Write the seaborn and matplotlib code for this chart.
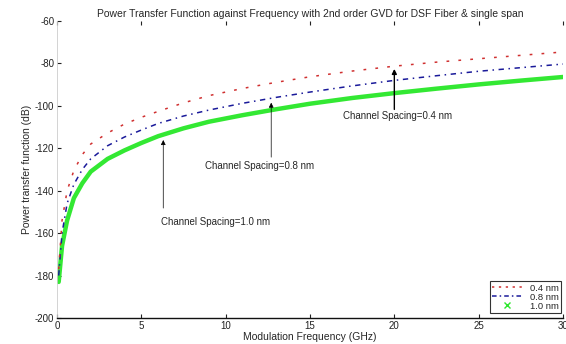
import matplotlib
matplotlib.use("Agg")
import matplotlib.pyplot as plt
import seaborn as sns
import pandas as pd
from matplotlib.lines import Line2D

# ---- data ----
freq_ghz = [0.1, 0.3, 0.6, 1.0, 1.5, 2, 3, 4, 5, 6, 7.5, 9, 11, 13, 15,
            17.5, 20, 22.5, 25, 27.5, 30]
ptf_04nm = [-177, -154, -140, -130.5, -123, -118, -112.8, -108.6, -105.4,
            -102.6, -98.6, -95.2, -91.8, -88.9, -86.3, -83.6, -81.3, -79.4,
            -77.8, -76.2, -74.6]
ptf_08nm = [-180, -160, -146, -137, -130, -125, -118.8, -114.7, -111.4,
            -108.3, -104.8, -102.0, -98.8, -96.0, -93.5, -90.6, -88.0,
            -85.8, -83.7, -82.0, -80.3]
ptf_10nm = [-183, -166, -154, -143.5, -136.5, -131, -125, -121, -117.5,
            -114.3, -110.6, -107.5, -104.4, -101.6, -99.0, -96.3, -94.0,
            -91.9, -89.9, -88.1, -86.4]
series_labels = ["0.4 nm", "0.8 nm", "1.0 nm"]
x_ticks = [0, 5, 10, 15, 20, 25, 30]
y_ticks = [-200, -180, -160, -140, -120, -100, -80, -60]

title = ("Power Transfer Function against Frequency with 2nd order GVD "
         "for DSF Fiber & single span")

sns.set_theme(style="white")
plt.rcParams["font.family"] = ["Liberation Sans", "DejaVu Sans"]
plt.rcParams["axes.unicode_minus"] = False

fig = plt.figure(figsize=(5.66, 3.44), dpi=100)
ax = fig.add_axes([0.1007, 0.0756, 0.894, 0.8634])

df04 = pd.DataFrame({"f": freq_ghz, "p": ptf_04nm})
df08 = pd.DataFrame({"f": freq_ghz, "p": ptf_08nm})
df10 = pd.DataFrame({"f": freq_ghz, "p": ptf_10nm})

sns.lineplot(data=df10, x="f", y="p", ax=ax, color="#33e833", lw=3.2,
             sort=False, legend=False)
sns.lineplot(data=df08, x="f", y="p", ax=ax, color="#1a1a9a", lw=1.1,
             sort=False, legend=False, linestyle=(0, (3.5, 3, 1, 3)))
sns.lineplot(data=df04, x="f", y="p", ax=ax, color="#d03030", lw=1.1,
             sort=False, legend=False, linestyle=(0, (1.8, 6)))

ax.set_xlim(0, 30)
ax.set_ylim(-200, -60)
ax.set_xticks(x_ticks)
ax.set_yticks(y_ticks)
ax.set_xticklabels([str(t) for t in x_ticks], fontsize=7)
ax.set_yticklabels([str(t) for t in y_ticks], fontsize=7)
ax.tick_params(direction="in", length=3, width=0.8, top=True, right=False,
               bottom=True, left=True, pad=2, colors="#222222")

for s in ["top", "right"]:
    ax.spines[s].set_visible(False)
ax.spines["left"].set_color("#cccccc")
ax.spines["left"].set_linewidth(0.6)
ax.spines["bottom"].set_color("#111111")
ax.spines["bottom"].set_linewidth(1.0)

ax.set_title(title, fontsize=7.5, pad=3)
ax.set_xlabel("Modulation Frequency (GHz)", fontsize=7.5, labelpad=1)
ax.set_ylabel("Power transfer function (dB)", fontsize=7.5, labelpad=2)

# annotations
arrow_kw = dict(arrowstyle="-|>", mutation_scale=7)
ax.annotate("", xy=(20.0, -81.3), xytext=(20.0, -103.0),
            arrowprops=dict(**arrow_kw, lw=1.0, color="black"))
ax.text(20.2, -105.0, "Channel Spacing=0.4 nm", ha="center", va="center",
        fontsize=7)
ax.annotate("", xy=(12.7, -97.2), xytext=(12.7, -125.5),
            arrowprops=dict(**arrow_kw, lw=0.5, color="#999999",
                            fc="black", ec="black"))
ax.text(12.0, -128.5, "Channel Spacing=0.8 nm", ha="center", va="center",
        fontsize=7)
ax.annotate("", xy=(6.3, -114.8), xytext=(6.3, -149.5),
            arrowprops=dict(**arrow_kw, lw=0.5, color="#999999",
                            fc="black", ec="black"))
ax.text(9.4, -154.8, "Channel Spacing=1.0 nm", ha="center", va="center",
        fontsize=7)

handles = [
    Line2D([], [], color="#d03030", lw=1.1, linestyle=(0, (1.5, 3))),
    Line2D([], [], color="#1a1a9a", lw=1.1, linestyle=(0, (3, 2, 1, 2))),
    Line2D([], [], color="#2ee62e", lw=0, marker="x", markersize=4),
]
leg = ax.legend(handles, series_labels, loc="lower right",
                bbox_to_anchor=(1.0, 0.01), fontsize=6.8, frameon=True,
                fancybox=False, handlelength=3.2, borderpad=0.25,
                labelspacing=0.0, handletextpad=0.8, borderaxespad=0.2)
leg.get_frame().set_edgecolor("black")
leg.get_frame().set_linewidth(0.8)

fig.savefig("out.png", dpi=100)
